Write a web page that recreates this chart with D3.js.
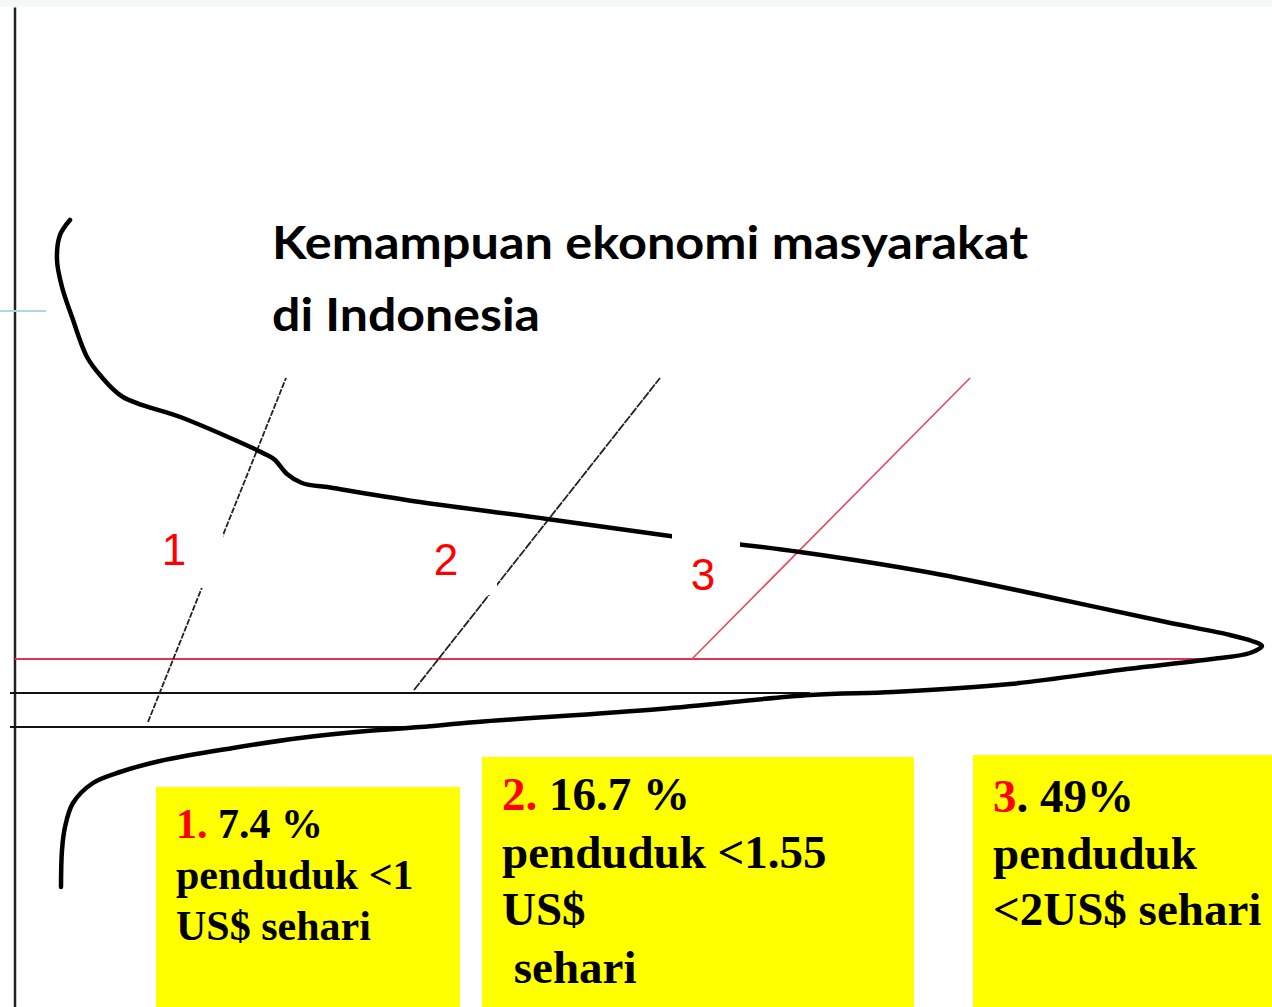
<!DOCTYPE html>
<html>
<head>
<meta charset="utf-8">
<script src="https://cdn.jsdelivr.net/npm/d3@7"></script>
<style>
  html, body { margin: 0; padding: 0; background: #fff; }
  svg { display: block; }
  text { white-space: pre; }
</style>
</head>
<body>
<div id="root"></div>
<script>
// Income distribution curve (x = population, y = income level).
const curveX = [5.5, 4.5, 4.2, 4.7, 5.7, 7.2, 8.5, 10.8, 16.8, 25.2, 26.0, 27.2, 28.7, 31.8, 40.5, 53.2, 65.5, 78.5, 91.7, 103.4, 115.1, 121.5, 123.7, 124.7, 123.5, 119.7, 111.2, 99.5, 87.8, 79.5, 64.5, 46.2, 40.5, 35.2, 28.5, 21.8, 14.5, 10.5, 7.8, 5.8, 5.0, 4.7, 4.6];
const curveY = [78.7, 77.2, 74.7, 72.0, 69.0, 65.0, 63.2, 61.0, 58.9, 55.2, 54.7, 53.3, 52.4, 51.9, 50.5, 48.8, 47.1, 45.5, 43.4, 41.0, 38.5, 37.2, 36.6, 36.1, 35.4, 34.8, 33.8, 32.3, 31.5, 31.2, 29.8, 28.5, 28.0, 27.6, 26.9, 25.9, 24.6, 23.5, 22.4, 20.4, 18.0, 15.7, 12.0];

// Poverty lines: 1 US$, 1.55 US$, 2 US$ a day.
const groups = ['1', '2', '3'];
const lineLevel = [28.0, 31.4, 34.8];   // income level of each line
const lineEnd = [40.5, 79.5, 119.7];    // where the line meets the curve
const shares = ['7.4 %', '16.7 %', '49%'];

// Guide strokes pointing at each line (from -> to).
const guideFrom = [[13.3, 28.5], [39.9, 31.7], [67.7, 34.8]];
const guideTo = [[27.1, 62.9], [64.5, 62.9], [95.5, 62.9]];

const title = ['Kemampuan ekonomi masyarakat', 'di Indonesia'];

// Set the dimensions of the graph.
const width = 1272;
const height = 1007;

const x = d3.scaleLinear().domain([0, 125.7]).range([15, 1272]);
const y = d3.scaleLinear().domain([0, 100]).range([1007, 7]);

const svg = d3.select('#root')
  .append('svg')
  .attr('width', width)
  .attr('height', height);

// Thin band along the top.
svg.append('rect')
  .attr('x', 0).attr('y', 0)
  .attr('width', width).attr('height', y(100))
  .attr('fill', '#f4f8f8');

// Vertical axis.
svg.append('g')
  .attr('transform', `translate(${x(0) - 0.5}, 0)`)
  .call(d3.axisLeft(y).ticks(0).tickSizeOuter(0))
  .call(g => g.select('.domain').attr('stroke', '#222').attr('stroke-width', 2.5));

svg.append('line')
  .attr('x1', 0).attr('x2', x(3.1))
  .attr('y1', y(69.6)).attr('y2', y(69.6))
  .attr('stroke', '#acd9dc')
  .attr('stroke-width', 2);

// Horizontal poverty lines.
svg.selectAll('.level')
  .data(groups)
  .enter()
  .append('line')
  .attr('class', 'level')
  .attr('x1', (d, i) => i === 2 ? x(0) : x(-0.5))
  .attr('x2', (d, i) => x(lineEnd[i]))
  .attr('y1', (d, i) => y(lineLevel[i]))
  .attr('y2', (d, i) => y(lineLevel[i]))
  .attr('stroke', (d, i) => i === 2 ? '#e0344f' : '#111')
  .attr('stroke-width', 2);

// Guide strokes.
svg.selectAll('.guide')
  .data(groups)
  .enter()
  .append('line')
  .attr('class', 'guide')
  .attr('x1', (d, i) => x(guideFrom[i][0]))
  .attr('y1', (d, i) => y(guideFrom[i][1]))
  .attr('x2', (d, i) => x(guideTo[i][0]))
  .attr('y2', (d, i) => y(guideTo[i][1]))
  .attr('stroke', (d, i) => i === 2 ? '#e8475c' : '#222')
  .attr('stroke-width', (d, i) => i === 2 ? 1.6 : 1.8)
  .attr('stroke-dasharray', (d, i) => i === 0 ? '6,1.5' : (i === 1 ? '9,1' : null));

// The distribution curve.
const line = d3.line()
  .x(d => x(d[0]))
  .y(d => y(d[1]))
  .curve(d3.curveCatmullRom.alpha(0.5));

svg.append('path')
  .datum(curveX.map((v, i) => [v, curveY[i]]))
  .attr('d', line)
  .attr('fill', 'none')
  .attr('stroke', '#000')
  .attr('stroke-width', 4.5)
  .attr('stroke-linecap', 'round')
  .attr('stroke-linejoin', 'round');

// White boxes behind the numbers (they cut the lines).
const labelBox = [[13.5, 47.7, 20.8, 41.9], [40.5, 47.7, 48.2, 41.2], [65.7, 47.5, 72.5, 39.7]];
const labelAt = [[15.9, 44.2], [43.1, 43.2], [68.8, 41.7]];

svg.selectAll('.label-box')
  .data(groups)
  .enter()
  .append('rect')
  .attr('class', 'label-box')
  .attr('x', (d, i) => x(labelBox[i][0]))
  .attr('y', (d, i) => y(labelBox[i][1]))
  .attr('width', (d, i) => x(labelBox[i][2]) - x(labelBox[i][0]))
  .attr('height', (d, i) => y(labelBox[i][3]) - y(labelBox[i][1]))
  .attr('fill', '#fff');

svg.selectAll('.label')
  .data(groups)
  .enter()
  .append('text')
  .attr('class', 'label')
  .attr('x', (d, i) => x(labelAt[i][0]))
  .attr('y', (d, i) => y(labelAt[i][1]))
  .attr('text-anchor', 'middle')
  .style('font-family', '"Liberation Sans", Arial, sans-serif')
  .style('font-size', '44px')
  .attr('fill', '#ff0000')
  .text(d => d);

// Title.
svg.selectAll('.title')
  .data(title)
  .enter()
  .append('text')
  .attr('class', 'title')
  .attr('x', x(25.7))
  .attr('y', (d, i) => y(74.8 - i * 7.2))
  .attr('textLength', (d, i) => i === 0 ? 756 : 268)
  .attr('lengthAdjust', 'spacingAndGlyphs')
  .style('font-family', 'Lato, "Open Sans", sans-serif')
  .style('font-weight', 'bold')
  .style('font-size', '45px')
  .attr('fill', '#000')
  .text(d => d);

// Yellow notes.
const notes = [
  { box: [14.1, 22.0, 44.5, 0], tx: 16.1, top: 16.9, step: 5.1, size: 42,
    lead: ['1.', ' ' + shares[0]], lines: ['penduduk <1', 'US$ sehari'] },
  { box: [46.7, 25.0, 89.9, 0], tx: 48.7, top: 19.7, step: 5.75, size: 47,
    lead: ['2.', ' ' + shares[1]], lines: ['penduduk <1.55', 'US$', ' sehari'] },
  { box: [95.8, 25.2, 125.7, 0], tx: 97.8, top: 19.5, step: 5.65, size: 47,
    lead: ['3', '. ' + shares[2]], lines: ['penduduk', '<2US$ sehari'] }
];

const note = svg.selectAll('.note')
  .data(notes)
  .enter()
  .append('g')
  .attr('class', 'note');

note.append('rect')
  .attr('x', d => x(d.box[0]))
  .attr('y', d => y(d.box[1]))
  .attr('width', d => x(d.box[2]) - x(d.box[0]))
  .attr('height', d => y(d.box[3]) - y(d.box[1]))
  .attr('fill', '#ffff00');

note.each(function (d) {
  const g = d3.select(this);
  const rows = [null].concat(d.lines);
  rows.forEach((r, i) => {
    const t = g.append('text')
      .attr('x', x(d.tx))
      .attr('y', y(d.top - i * d.step))
      .style('font-family', '"Liberation Serif", "Times New Roman", serif')
      .style('font-weight', 'bold')
      .style('font-size', d.size + 'px')
      .attr('fill', '#000');
    if (r === null) {
      t.append('tspan').attr('fill', '#ff0000').text(d.lead[0]);
      t.append('tspan').text(d.lead[1]);
    } else {
      t.text(r);
    }
  });
});
</script>
</body>
</html>
